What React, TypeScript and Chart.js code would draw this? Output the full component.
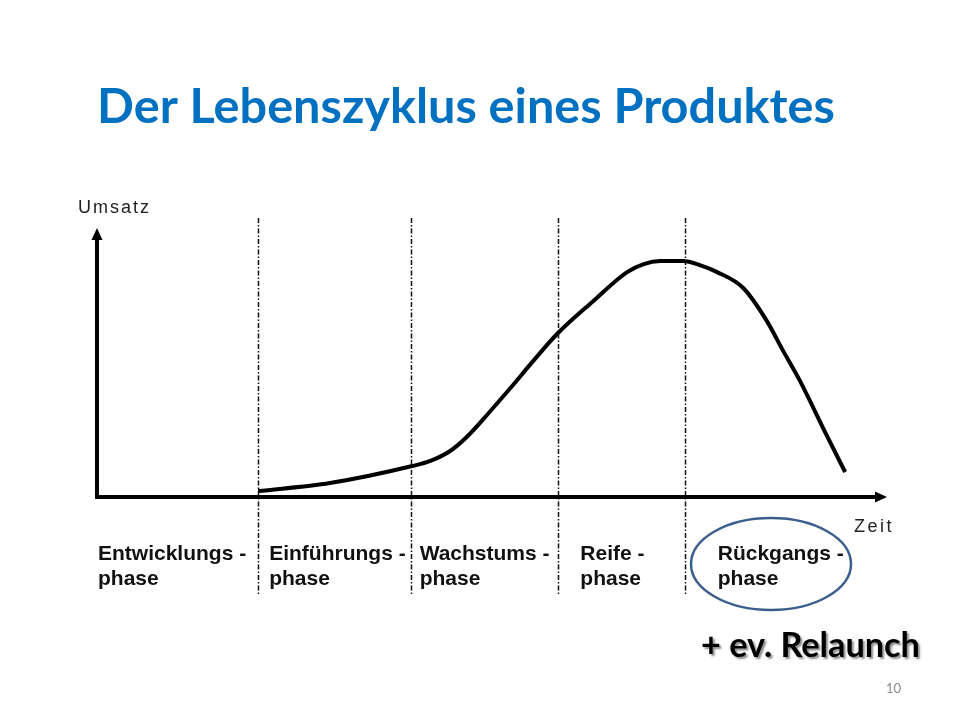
import { useEffect, useRef } from "react";
import { Chart, registerables } from "chart.js";

Chart.register(...registerables);

// ---- data ----
const titleText = "Der Lebenszyklus eines Produktes";
const yAxisLabel = "Umsatz";
const xAxisLabel = "Zeit";
const noteText = "+ ev. Relaunch";
const pageNumber = "10";

// phase boundaries on the time axis (0..100)
const phaseBoundaries = [20.4, 39.7, 58.4, 74.4];
const phaseLine1 = ["Entwicklungs -", "Einführungs -", "Wachstums -", "Reife -", "Rückgangs -"];
const phaseLine2 = ["phase", "phase", "phase", "phase", "phase"];

// sales curve (time 0..100, sales 0..100)
const timeValues = [20.4, 29.5, 39.9, 42.2, 44.7, 46.8, 49.7, 52.3, 55.2, 58.2, 62.8, 67.1, 69.2, 71.3, 74.2, 76.3, 78.5, 81.8, 84.8, 86.8, 89.0, 92.4, 94.7];
const salesValues = [2.2, 5.2, 11.5, 13.4, 17.1, 22.3, 31.6, 40.4, 50.5, 60.5, 72.8, 83.6, 86.6, 87.7, 87.7, 86.2, 83.6, 77.7, 65.4, 54.6, 43.1, 22.7, 9.3];

export default function App() {
  const canvasRef = useRef<HTMLCanvasElement | null>(null);

  useEffect(() => {
    document.body.style.margin = "0";
    const canvas = canvasRef.current;
    if (!canvas) return;

    const fitFont = (ctx: CanvasRenderingContext2D, text: string, weight: string, family: string, targetWidth: number) => {
      ctx.font = `${weight} 100px ${family}`;
      const w = ctx.measureText(text).width;
      return (100 * targetWidth) / w;
    };

    const decorPlugin = {
      id: "decor",
      afterDatasetsDraw(chart: any) {
        const ctx: CanvasRenderingContext2D = chart.ctx;
        const xs = chart.scales.x;
        const ys = chart.scales.y;
        const x0 = xs.getPixelForValue(0);
        const x1 = xs.getPixelForValue(100);
        const y0 = ys.getPixelForValue(0);
        const y1 = ys.getPixelForValue(100);

        ctx.save();
        // dashed phase lines
        ctx.strokeStyle = "#111";
        ctx.lineWidth = 1.5;
        ctx.setLineDash([5, 2, 1.5, 2]);
        phaseBoundaries.forEach((b) => {
          const px = Math.round(xs.getPixelForValue(b)) + 0.5;
          ctx.beginPath();
          ctx.moveTo(px, y1 - 10);
          ctx.lineTo(px, y0 + 98);
          ctx.stroke();
        });
        ctx.setLineDash([]);

        // axes
        ctx.strokeStyle = "#000";
        ctx.fillStyle = "#000";
        ctx.lineWidth = 4;
        ctx.lineCap = "butt";
        ctx.beginPath();
        ctx.moveTo(x0 - 2, y0);
        ctx.lineTo(x1 - 8, y0);
        ctx.moveTo(x0, y0 + 2);
        ctx.lineTo(x0, y1 + 8);
        ctx.stroke();
        // arrowheads
        ctx.beginPath();
        ctx.moveTo(x1, y0);
        ctx.lineTo(x1 - 12, y0 - 5.5);
        ctx.lineTo(x1 - 12, y0 + 5.5);
        ctx.closePath();
        ctx.fill();
        ctx.beginPath();
        ctx.moveTo(x0, y1);
        ctx.lineTo(x0 - 5.5, y1 + 12);
        ctx.lineTo(x0 + 5.5, y1 + 12);
        ctx.closePath();
        ctx.fill();

        // axis labels
        ctx.fillStyle = "#222";
        ctx.font = "18px 'Liberation Sans', Arial, sans-serif";
        (ctx as any).letterSpacing = "2px";
        ctx.textBaseline = "alphabetic";
        ctx.textAlign = "left";
        ctx.fillText(yAxisLabel, x0 - 19, y1 - 15);
        (ctx as any).letterSpacing = "2.5px";
        ctx.fillText(xAxisLabel, x1 - 33, y0 + 35);

        // phase labels
        const labelStarts = [x0 + 1];
        const offsets = [11, 9, 22, 33];
        phaseBoundaries.forEach((b, i) => labelStarts.push(xs.getPixelForValue(b) + offsets[i]));
        ctx.fillStyle = "#111";
        ctx.font = "bold 21px 'Liberation Sans', Arial, sans-serif";
        (ctx as any).letterSpacing = "0px";
        phaseLine1.forEach((t, i) => {
          ctx.fillText(t, labelStarts[i], y0 + 63);
          ctx.fillText(phaseLine2[i], labelStarts[i], y0 + 88);
        });

        // ellipse around last phase
        ctx.strokeStyle = "#3B5E8C";
        ctx.lineWidth = 2.5;
        ctx.beginPath();
        ctx.ellipse(771, 564, 80, 46, 0, 0, Math.PI * 2);
        ctx.stroke();

        // title
        const titleFamily = "Lato, 'Open Sans', sans-serif";
        const ts = fitFont(ctx, titleText, "bold", titleFamily, 738);
        ctx.font = `bold ${ts}px ${titleFamily}`;
        ctx.fillStyle = "#0070C0";
        ctx.fillText(titleText, 97, 123);

        // note with shadow
        const ns = fitFont(ctx, noteText, "bold", titleFamily, 219);
        ctx.font = `bold ${ns}px ${titleFamily}`;
        ctx.shadowColor = "rgba(0,0,0,0.45)";
        ctx.shadowOffsetX = 2;
        ctx.shadowOffsetY = 2;
        ctx.shadowBlur = 2;
        ctx.fillStyle = "#000";
        ctx.fillText(noteText, 701, 657);
        ctx.shadowColor = "transparent";

        // page number
        ctx.font = "13px Lato, sans-serif";
        ctx.fillStyle = "#8A8A8A";
        ctx.fillText(pageNumber, 886, 693);
        ctx.restore();
      },
    };

    const chart = new Chart(canvas, {
      type: "line",
      data: {
        datasets: [
          {
            data: timeValues.map((t, i) => ({ x: t, y: salesValues[i] })),
            borderColor: "#000",
            borderWidth: 4,
            pointRadius: 0,
            cubicInterpolationMode: "monotone",
            fill: false,
          },
        ],
      },
      options: {
        responsive: false,
        animation: false,
        layout: { padding: { left: 97, right: 73, top: 228, bottom: 223 } },
        scales: {
          x: { type: "linear", min: 0, max: 100, display: false },
          y: { type: "linear", min: 0, max: 100, display: false },
        },
        plugins: {
          legend: { display: false },
          tooltip: { enabled: false },
          title: { display: false },
        },
      },
      plugins: [decorPlugin],
    });

    return () => chart.destroy();
  }, []);

  return (
    <div style={{ position: "absolute", left: 0, top: 0, width: 960, height: 720, background: "#fff" }}>
      <canvas ref={canvasRef} width={960} height={720} style={{ width: 960, height: 720, display: "block" }} />
    </div>
  );
}
